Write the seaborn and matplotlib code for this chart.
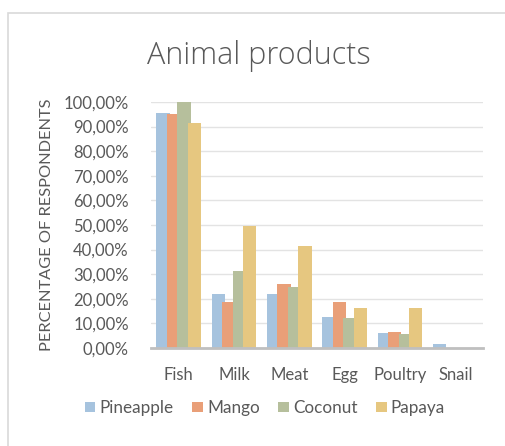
import matplotlib
matplotlib.use("Agg")
import matplotlib.pyplot as plt
import seaborn as sns
import pandas as pd
from matplotlib.patches import Rectangle
from matplotlib.ticker import FuncFormatter

categories = ["Fish", "Milk", "Meat", "Egg", "Poultry", "Snail"]
pineapple = [95.5, 22.0, 22.0, 12.8, 6.1, 1.7]
mango = [95.1, 18.8, 25.9, 18.8, 6.5, 0.0]
coconut = [100.0, 31.1, 24.7, 12.2, 5.7, 0.0]
papaya = [91.6, 49.7, 41.5, 16.4, 16.4, 0.0]
series_names = ["Pineapple", "Mango", "Coconut", "Papaya"]
colors = ["#a6c3de", "#e99f78", "#b6bf9c", "#e6c780"]

rows = []
for name, vals in zip(series_names, [pineapple, mango, coconut, papaya]):
    for c, v in zip(categories, vals):
        rows.append({"Category": c, "Series": name, "Value": v / 100.0})
df = pd.DataFrame(rows)

sns.set_style("white")
plt.rcParams["font.family"] = ["Lato", "DejaVu Sans"]

fig = plt.figure(figsize=(5.05, 4.46), dpi=100)
ax = fig.add_axes([151 / 505, 1 - 348 / 446, (483 - 151) / 505, (348 - 102) / 446])

sns.barplot(data=df, x="Category", y="Value", hue="Series", order=categories,
            hue_order=series_names, palette=colors, ax=ax, width=0.8,
            saturation=1, legend=True, edgecolor="none")

# widen bars slightly so neighbours overlap like the original
for p in ax.patches:
    w = p.get_width()
    if w <= 0 or w > 1:
        continue
    cx = p.get_x() + w / 2
    cat = round(cx)
    ncx = cat + (cx - cat) * 0.94
    nw = 0.24
    p.set_x(ncx - nw / 2)
    p.set_width(nw)

ax.set_ylim(0, 1.0)
ax.set_xlim(-0.5, 5.5)
ax.set_yticks([i / 10 for i in range(11)])
ax.yaxis.set_major_formatter(FuncFormatter(lambda v, _: f"{v*100:.2f}%".replace(".", ",")))
ax.grid(axis="y", color="#e3e3e3", linewidth=1)
ax.set_axisbelow(True)
for s in ["top", "right", "left"]:
    ax.spines[s].set_visible(False)
ax.spines["bottom"].set_color("#bfbfbf")
ax.spines["bottom"].set_linewidth(2)
ax.tick_params(axis="both", length=0, labelsize=12, colors="#595959")
ax.tick_params(axis="y", pad=16)
ax.tick_params(axis="x", pad=14)
ax.set_xlabel("")
ax.set_ylabel("PERCENTAGE OF RESPONDENTS", fontsize=11.8, color="#595959", labelpad=7)

leg = ax.legend(loc="center", bbox_to_anchor=((265 - 151) / 332, (348 - 408) / 246), ncol=4,
                frameon=False, fontsize=12.3, handlelength=0.6, handleheight=0.6,
                handletextpad=0.25, columnspacing=1.1, labelcolor="#595959")

fig.text(258.5 / 505, 1 - 64 / 446, "Animal products", ha="center", va="baseline",
         fontsize=22, color="#595959", family=["Open Sans", "DejaVu Sans"],
         fontweight="light")

fig.patches.append(Rectangle((8 / 505, -0.1), 1.2, 1 - 13 / 446 + 0.1,
                             transform=fig.transFigure, fill=False,
                             edgecolor="#d9d9d9", linewidth=1.2))

fig.savefig("out.png", dpi=100)
